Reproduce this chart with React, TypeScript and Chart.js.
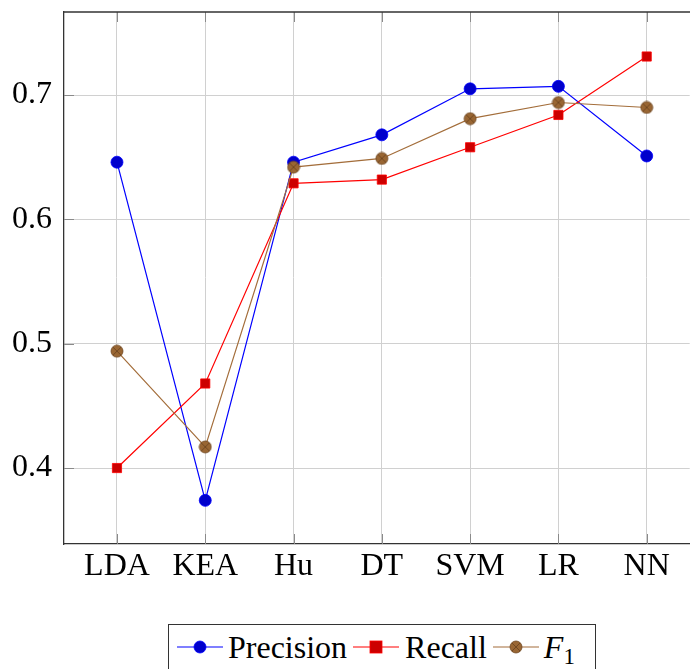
import React, { useEffect, useRef } from "react";
import { Chart, registerables } from "chart.js";
Chart.register(...registerables);

const categories = ["LDA", "KEA", "Hu", "DT", "SVM", "LR", "NN"];
const precision = [0.646, 0.374, 0.646, 0.668, 0.705, 0.707, 0.651];
const recall = [0.4, 0.468, 0.629, 0.632, 0.658, 0.684, 0.731];
const f1 = [0.494, 0.417, 0.642, 0.649, 0.681, 0.694, 0.69];
const yTicks = [0.4, 0.5, 0.6, 0.7];

const FONT = '"Liberation Serif", "Times New Roman", serif';
const BLUE = "#0000FF";
const BLUE_F = "#0000CC";
const RED = "#FF0000";
const RED_F = "#CC0000";
const BROWN = "#A36D3A";
const BROWN_F = "#996633";
const BROWN_D = "#6E4621";

function makeOtimes(r: number) {
  const s = Math.ceil(r * 2 + 2);
  const c = document.createElement("canvas");
  c.width = s;
  c.height = s;
  const ctx = c.getContext("2d")!;
  const cx = s / 2;
  ctx.beginPath();
  ctx.arc(cx, cx, r, 0, Math.PI * 2);
  ctx.fillStyle = BROWN_F;
  ctx.fill();
  ctx.strokeStyle = BROWN_D;
  ctx.lineWidth = 0.8;
  ctx.stroke();
  const d = r * 0.68;
  ctx.beginPath();
  ctx.moveTo(cx - d, cx - d);
  ctx.lineTo(cx + d, cx + d);
  ctx.moveTo(cx + d, cx - d);
  ctx.lineTo(cx - d, cx + d);
  ctx.strokeStyle = "rgba(70,40,15,0.6)";
  ctx.lineWidth = 0.8;
  ctx.stroke();
  return c;
}

const framePlugin = {
  id: "frame",
  beforeDatasetsDraw(chart: any) {
    const { ctx, chartArea } = chart;
    const { left, right, top, bottom } = chartArea;
    const xs = chart.scales.x;
    const ys = chart.scales.y;
    ctx.save();
    ctx.strokeStyle = "#8a8a8a";
    ctx.lineWidth = 1;
    const tl = 10;
    categories.forEach((_, i) => {
      const px = Math.round(xs.getPixelForValue(i)) + 0.5;
      ctx.beginPath();
      ctx.moveTo(px, bottom);
      ctx.lineTo(px, bottom - tl);
      ctx.moveTo(px, top);
      ctx.lineTo(px, top + tl);
      ctx.stroke();
    });
    yTicks.forEach((v) => {
      const py = Math.round(ys.getPixelForValue(v)) + 0.5;
      ctx.beginPath();
      ctx.moveTo(left, py);
      ctx.lineTo(left + tl, py);
      ctx.stroke();
    });
    ctx.strokeStyle = "#333";
    ctx.lineWidth = 1.3;
    ctx.beginPath();
    ctx.moveTo(left, top);
    ctx.lineTo(right + 10, top);
    ctx.stroke();
    ctx.restore();
  },
};

function LegendMarker({ kind }: { kind: string }) {
  const color = kind === "p" ? BLUE : kind === "r" ? RED : BROWN;
  return (
    <svg width={46} height={20} style={{ display: "block" }}>
      <line x1={0} y1={10} x2={46} y2={10} stroke={color} strokeWidth={1.2} />
      {kind === "p" && <circle cx={23} cy={10} r={6} fill={BLUE_F} stroke={BLUE} strokeWidth={0.8} />}
      {kind === "r" && <rect x={17} y={4} width={12} height={12} fill={RED_F} stroke={RED} strokeWidth={0.8} />}
      {kind === "f" && (
        <g>
          <circle cx={23} cy={10} r={6} fill={BROWN_F} stroke={BROWN_D} strokeWidth={0.8} />
          <path d="M18.9 5.9 L27.1 14.1 M27.1 5.9 L18.9 14.1" stroke="rgba(70,40,15,0.6)" strokeWidth={0.8} />
        </g>
      )}
    </svg>
  );
}

export default function App() {
  const ref = useRef<HTMLCanvasElement>(null);
  useEffect(() => {
    const otimes = makeOtimes(6);
    const mk = (arr: number[]) => arr.map((v, i) => ({ x: i, y: v }));
    const chart = new Chart(ref.current!, {
      type: "line",
      data: {
        datasets: [
          {
            label: "Precision",
            data: mk(precision),
            borderColor: BLUE,
            backgroundColor: BLUE_F,
            borderWidth: 1.2,
            pointStyle: "circle",
            pointRadius: 6,
            pointBorderColor: BLUE,
            pointBorderWidth: 0.8,
            pointBackgroundColor: BLUE_F,
            order: 2,
            clip: false,
          },
          {
            label: "Recall",
            data: mk(recall),
            borderColor: RED,
            backgroundColor: RED_F,
            borderWidth: 1.2,
            pointStyle: "rect",
            pointRadius: 6.5,
            pointBorderColor: RED,
            pointBorderWidth: 0.8,
            pointBackgroundColor: RED_F,
            order: 1,
            clip: false,
          },
          {
            label: "F1",
            data: mk(f1),
            borderColor: BROWN,
            backgroundColor: BROWN_F,
            borderWidth: 1.2,
            pointStyle: otimes as any,
            pointRadius: 6,
            order: 0,
            clip: false,
          },
        ],
      },
      options: {
        responsive: false,
        animation: false,
        devicePixelRatio: 1,
        layout: { padding: { top: 12, right: 0, left: 0, bottom: 0 } },
        plugins: { legend: { display: false }, tooltip: { enabled: false } },
        scales: {
          x: {
            type: "linear",
            min: -0.6,
            max: 6.487,
            afterBuildTicks: (s: any) => {
              s.ticks = categories.map((_, i) => ({ value: i }));
            },
            afterFit: (s: any) => {
              s.height = 56;
              s.paddingLeft = 0;
              s.paddingRight = 0;
            },
            ticks: {
              callback: (v: any) => categories[Math.round(Number(v))] ?? "",
              font: { family: FONT, size: 32 },
              color: "#000",
              padding: 3,
              maxRotation: 0,
              autoSkip: false,
            },
            grid: { color: "#d0d0d0", lineWidth: 1, drawTicks: false },
            border: { display: true, color: "#333", width: 1.3 },
          },
          y: {
            type: "linear",
            min: 0.3389,
            max: 0.7668,
            afterBuildTicks: (s: any) => {
              s.ticks = yTicks.map((v) => ({ value: v }));
            },
            afterFit: (s: any) => {
              s.width = 64;
              s.paddingTop = 0;
              s.paddingBottom = 0;
            },
            ticks: {
              callback: (v: any) => Number(v).toFixed(1),
              font: { family: FONT, size: 32 },
              color: "#000",
              padding: 12,
            },
            grid: { color: "#d0d0d0", lineWidth: 1, drawTicks: false },
            border: { display: true, color: "#333", width: 1.3 },
          },
        },
      },
      plugins: [framePlugin],
    } as any);
    return () => chart.destroy();
  }, []);

  const textStyle: React.CSSProperties = {
    fontFamily: FONT,
    fontSize: 32,
    lineHeight: "36px",
    color: "#000",
    whiteSpace: "nowrap",
  };

  return (
    <div style={{ position: "absolute", left: 0, top: 0, width: 690, height: 669, background: "#fff", overflow: "hidden" }}>
      <canvas ref={ref} width={697} height={600} style={{ position: "absolute", left: 0, top: 0 }} />
      <div
        style={{
          position: "absolute",
          left: 168,
          top: 624,
          width: 428,
          height: 46,
          boxSizing: "border-box",
          border: "1.3px solid #333",
          display: "flex",
          alignItems: "center",
          paddingLeft: 8,
        }}
      >
        <LegendMarker kind="p" />
        <span style={{ ...textStyle, marginLeft: 5, marginRight: 6 }}>Precision</span>
        <LegendMarker kind="r" />
        <span style={{ ...textStyle, marginLeft: 6, marginRight: 6 }}>Recall</span>
        <LegendMarker kind="f" />
        <span style={{ ...textStyle, marginLeft: 5 }}>
          <i>F</i>
          <sub style={{ fontSize: 23, verticalAlign: "-6px", lineHeight: 0 }}>1</sub>
        </span>
      </div>
    </div>
  );
}
